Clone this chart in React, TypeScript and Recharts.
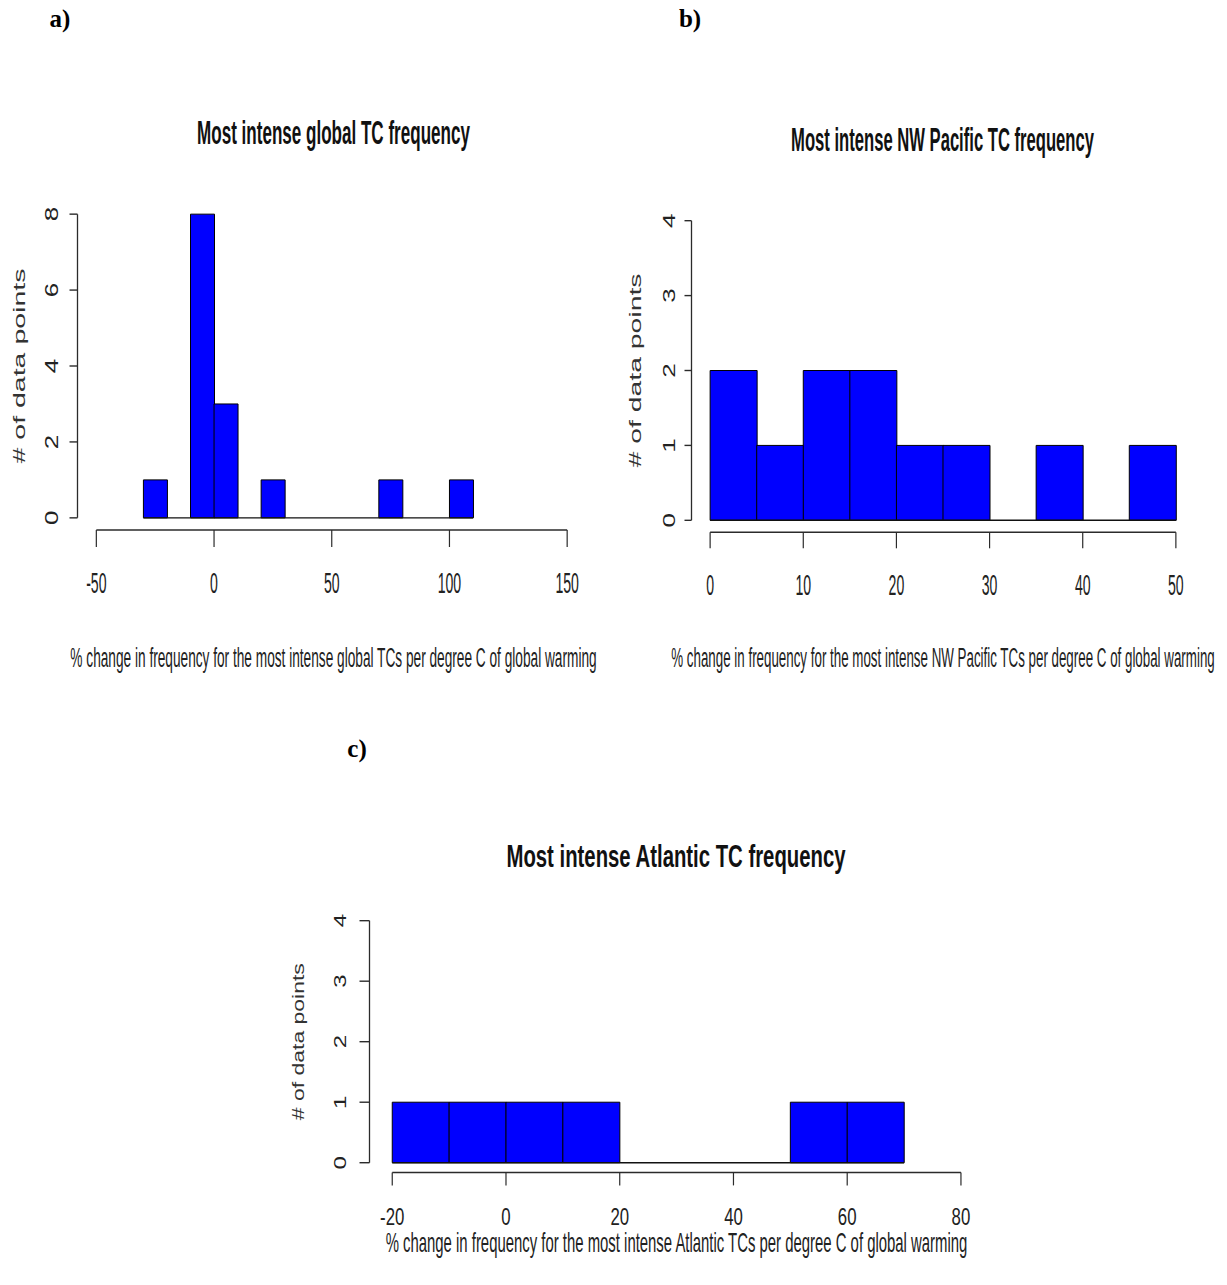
import React from "react";
import { BarChart, Bar, XAxis, YAxis, ReferenceLine } from "recharts";

const PAGE_W = 1227;
const PAGE_H = 1285;
const Y_AXIS_W = 60;
const X_AXIS_H = 70;
const SANS = "'Liberation Sans', Arial, Helvetica, sans-serif";
const SERIF = "'Liberation Serif', 'Times New Roman', serif";
const AXIS_COLOR = "#2b2b2b";

// a) most intense global TCs
const GLOBAL_BIN_STARTS = [-30, -20, -10, 0, 10, 20, 30, 40, 50, 60, 70, 80, 90, 100];
const GLOBAL_COUNTS = [1, 0, 8, 3, 0, 1, 0, 0, 0, 0, 1, 0, 0, 1];
const GLOBAL_BIN_WIDTH = 10;
const GLOBAL_X_TICKS = [-50, 0, 50, 100, 150];
const GLOBAL_Y_TICKS = [0, 2, 4, 6, 8];

// b) most intense NW Pacific TCs
const NWP_BIN_STARTS = [0, 5, 10, 15, 20, 25, 30, 35, 40, 45];
const NWP_COUNTS = [2, 1, 2, 2, 1, 1, 0, 1, 0, 1];
const NWP_BIN_WIDTH = 5;
const NWP_X_TICKS = [0, 10, 20, 30, 40, 50];
const NWP_Y_TICKS = [0, 1, 2, 3, 4];

// c) most intense Atlantic TCs
const ATL_BIN_STARTS = [-20, -10, 0, 10, 20, 30, 40, 50, 60];
const ATL_COUNTS = [1, 1, 1, 1, 0, 0, 0, 1, 1];
const ATL_BIN_WIDTH = 10;
const ATL_X_TICKS = [-20, 0, 20, 40, 60, 80];
const ATL_Y_TICKS = [0, 1, 2, 3, 4];

const Y_TITLE = "# of data points";

type Lay = {
  left: number;
  right: number;
  top: number;
  bottom: number;
  xTickLen: number;
  yTickLen: number;
  xLabelY: number;
  xTickFs: number;
  xTickK: number;
  yLabelX: number;
  yTickFs: number;
  yTickK: number;
};

const LAY_A: Lay = {
  left: 77.5, right: 586, top: 202, bottom: 530,
  xTickLen: 17, yTickLen: 8,
  xLabelY: 583, xTickFs: 30, xTickK: 0.47,
  yLabelX: 52.5, yTickFs: 26, yTickK: 0.68,
};
const LAY_B: Lay = {
  left: 691.5, right: 1194.5, top: 208.7, bottom: 532.3,
  xTickLen: 16, yTickLen: 7,
  xLabelY: 585, xTickFs: 30, xTickK: 0.47,
  yLabelX: 669.5, yTickFs: 26, yTickK: 0.62,
};
const LAY_C: Lay = {
  left: 369.5, right: 983.7, top: 911, bottom: 1172.4,
  xTickLen: 13, yTickLen: 10,
  xLabelY: 1216.7, xTickFs: 24, xTickK: 0.7,
  yLabelX: 339.5, yTickFs: 24, yTickK: 0.72,
};

// natural text width, so squeezed labels can be scaled to the reference width
let ctx: CanvasRenderingContext2D | null = null;
function textWidth(s: string, fs: number, bold: boolean): number {
  if (!ctx) ctx = document.createElement("canvas").getContext("2d");
  if (!ctx) return s.length * fs * 0.5;
  ctx.font = `${bold ? "bold " : ""}${fs}px ${SANS}`;
  return ctx.measureText(s).width;
}

type HistProps = {
  starts: number[];
  counts: number[];
  binWidth: number;
  xTicks: number[];
  yTicks: number[];
  lay: Lay;
};

// R-style histogram: axes span the tick range, plot region padded by 4%
function Histogram({ starts, counts, binWidth, xTicks, yTicks, lay }: HistProps) {
  const rows = starts.map((s, i) => ({ mid: s + binWidth / 2, count: counts[i] }));
  const x0 = xTicks[0];
  const x1 = xTicks[xTicks.length - 1];
  const y0 = yTicks[0];
  const y1 = yTicks[yTicks.length - 1];
  const xPad = (x1 - x0) * 0.04;
  const yPad = (y1 - y0) * 0.04;
  const xDomain = [x0 - xPad, x1 + xPad];
  const yDomain = [y0 - yPad, y1 + yPad];
  const binEnd = starts[starts.length - 1] + binWidth;

  const margin = {
    left: lay.left - Y_AXIS_W,
    top: lay.top,
    right: PAGE_W - lay.right,
    bottom: PAGE_H - lay.bottom - X_AXIS_H,
  };

  const xTick = (p: any) => (
    <text
      transform={`translate(${p.x},${lay.xLabelY}) scale(${lay.xTickK},1)`}
      textAnchor="middle"
      dominantBaseline="central"
      fontFamily={SANS}
      fontSize={lay.xTickFs}
      fill="#222"
    >
      {p.payload.value}
    </text>
  );

  const yTick = (p: any) => (
    <text
      transform={`translate(${lay.yLabelX},${p.y}) scale(${lay.yTickK},1) rotate(-90)`}
      textAnchor="middle"
      dominantBaseline="central"
      fontFamily={SANS}
      fontSize={lay.yTickFs}
      fill="#222"
    >
      {p.payload.value}
    </text>
  );

  return (
    <div style={{ position: "absolute", left: 0, top: 0 }}>
      <BarChart
        width={PAGE_W}
        height={PAGE_H}
        data={rows}
        margin={margin}
        barCategoryGap={0}
        barGap={0}
      >
        <XAxis
          dataKey="mid"
          type="number"
          domain={xDomain}
          allowDataOverflow
          ticks={xTicks}
          interval={0}
          height={X_AXIS_H}
          axisLine={false}
          tickLine={{ stroke: AXIS_COLOR, strokeWidth: 1.2 }}
          tickSize={lay.xTickLen}
          tickMargin={0}
          tick={xTick}
        />
        <YAxis
          type="number"
          domain={yDomain}
          allowDataOverflow
          ticks={yTicks}
          interval={0}
          width={Y_AXIS_W}
          axisLine={false}
          tickLine={{ stroke: AXIS_COLOR, strokeWidth: 1.4 }}
          tickSize={lay.yTickLen}
          tickMargin={0}
          tick={yTick}
        />
        <ReferenceLine
          segment={[{ x: x0, y: yDomain[0] }, { x: x1, y: yDomain[0] }]}
          stroke={AXIS_COLOR}
          strokeWidth={1.5}
          ifOverflow="visible"
        />
        <ReferenceLine
          segment={[{ x: xDomain[0], y: y0 }, { x: xDomain[0], y: y1 }]}
          stroke={AXIS_COLOR}
          strokeWidth={1.3}
          ifOverflow="visible"
        />
        <ReferenceLine
          segment={[{ x: starts[0], y: 0 }, { x: binEnd, y: 0 }]}
          stroke="#111"
          strokeWidth={1.4}
          ifOverflow="visible"
        />
        <Bar
          dataKey="count"
          fill="#0000FF"
          stroke="#000"
          strokeWidth={1}
          isAnimationActive={false}
        />
      </BarChart>
    </div>
  );
}

// horizontal text squeezed to a given width
function HText({ x, y, len, fs, bold, children }: any) {
  const k = len / textWidth(children, fs, !!bold);
  return (
    <text
      transform={`translate(${x},${y}) scale(${k},1)`}
      textAnchor="middle"
      dominantBaseline="central"
      fontFamily={SANS}
      fontWeight={bold ? 700 : 400}
      fontSize={fs}
      fill={bold ? "#111" : "#222"}
    >
      {children}
    </text>
  );
}

// rotated axis title: length along y, thickness squeezed by k
function VText({ x, y, len, fs, k, children }: any) {
  const s = len / textWidth(children, fs, false);
  return (
    <text
      transform={`translate(${x},${y}) scale(${k},${s}) rotate(-90)`}
      textAnchor="middle"
      dominantBaseline="central"
      fontFamily={SANS}
      fontSize={fs}
      fill="#333"
    >
      {children}
    </text>
  );
}

function Letter({ x, y, children }: any) {
  return (
    <text
      x={x}
      y={y}
      textAnchor="middle"
      dominantBaseline="central"
      fontFamily={SERIF}
      fontWeight={700}
      fontSize={25}
      fill="#000"
    >
      {children}
    </text>
  );
}

export default function App() {
  return (
    <div
      style={{
        position: "absolute",
        left: 0,
        top: 0,
        width: PAGE_W,
        height: PAGE_H,
        background: "#fff",
        overflow: "hidden",
      }}
    >
      <Histogram
        starts={GLOBAL_BIN_STARTS}
        counts={GLOBAL_COUNTS}
        binWidth={GLOBAL_BIN_WIDTH}
        xTicks={GLOBAL_X_TICKS}
        yTicks={GLOBAL_Y_TICKS}
        lay={LAY_A}
      />
      <Histogram
        starts={NWP_BIN_STARTS}
        counts={NWP_COUNTS}
        binWidth={NWP_BIN_WIDTH}
        xTicks={NWP_X_TICKS}
        yTicks={NWP_Y_TICKS}
        lay={LAY_B}
      />
      <Histogram
        starts={ATL_BIN_STARTS}
        counts={ATL_COUNTS}
        binWidth={ATL_BIN_WIDTH}
        xTicks={ATL_X_TICKS}
        yTicks={ATL_Y_TICKS}
        lay={LAY_C}
      />
      <svg
        width={PAGE_W}
        height={PAGE_H}
        style={{ position: "absolute", left: 0, top: 0, pointerEvents: "none" }}
      >
        <Letter x={60} y={18}>a)</Letter>
        <Letter x={690} y={18}>b)</Letter>
        <Letter x={357} y={748}>c)</Letter>

        <HText x={333.5} y={133} len={273} fs={33} bold>
          Most intense global TC frequency
        </HText>
        <HText x={942.5} y={140} len={303} fs={33} bold>
          Most intense NW Pacific TC frequency
        </HText>
        <HText x={676} y={856} len={340} fs={31} bold>
          Most intense Atlantic TC frequency
        </HText>

        <HText x={333.5} y={657} len={527} fs={28}>
          % change in frequency for the most intense global TCs per degree C of global warming
        </HText>
        <HText x={943} y={657} len={544} fs={28}>
          % change in frequency for the most intense NW Pacific TCs per degree C of global warming
        </HText>
        <HText x={676.5} y={1243} len={583} fs={27}>
          % change in frequency for the most intense Atlantic TCs per degree C of global warming
        </HText>

        <VText x={19} y={366} len={195} fs={28} k={0.6}>{Y_TITLE}</VText>
        <VText x={635} y={370.5} len={194} fs={28} k={0.58}>{Y_TITLE}</VText>
        <VText x={298} y={1041.7} len={157} fs={23} k={0.7}>{Y_TITLE}</VText>
      </svg>
    </div>
  );
}
